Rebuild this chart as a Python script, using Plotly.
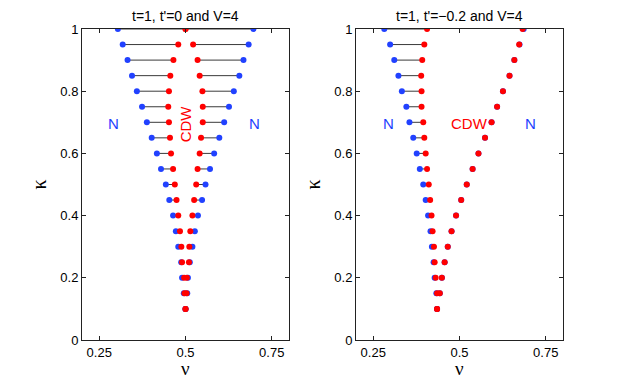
import plotly.graph_objects as go

kappa = [1.0, 0.95, 0.9, 0.85, 0.8, 0.75, 0.7, 0.65, 0.6, 0.55, 0.5, 0.45, 0.4, 0.35, 0.3, 0.25, 0.2, 0.15, 0.1]

# Left panel: t=1, t'=0, V=4
l_blue_lo = [0.304, 0.318, 0.332, 0.345, 0.359, 0.374, 0.388, 0.402, 0.417, 0.429, 0.443, 0.453, 0.464, 0.472, 0.479, 0.4875, 0.490, 0.495, 0.500]
l_red_lo = [0.500, 0.479, 0.465, 0.456, 0.452, 0.450, 0.452, 0.455, 0.458, 0.464, 0.469, 0.474, 0.479, 0.484, 0.488, 0.490, 0.496, 0.497, 0.500]
l_red_hi = [0.500, 0.522, 0.535, 0.541, 0.549, 0.550, 0.550, 0.545, 0.541, 0.535, 0.531, 0.525, 0.520, 0.514, 0.511, 0.510, 0.504, 0.503, 0.500]
l_blue_hi = [0.697, 0.683, 0.668, 0.656, 0.640, 0.626, 0.612, 0.598, 0.583, 0.571, 0.558, 0.548, 0.536, 0.527, 0.520, 0.5125, 0.507, 0.505, 0.500]

# Right panel: t=1, t'=-0.2, V=4
r_blue_lo = [0.282, 0.299, 0.311, 0.323, 0.333, 0.346, 0.355, 0.366, 0.376, 0.385, 0.395, 0.402, 0.409, 0.416, 0.420, 0.425, 0.428, 0.433, 0.435]
r_red_lo = [0.406, 0.398, 0.392, 0.389, 0.390, 0.390, 0.395, 0.398, 0.402, 0.406, 0.411, 0.415, 0.419, 0.422, 0.426, 0.428, 0.431, 0.435, 0.435]
r_red_hi = [0.683, 0.673, 0.659, 0.645, 0.626, 0.609, 0.593, 0.574, 0.555, 0.538, 0.521, 0.505, 0.490, 0.477, 0.466, 0.457, 0.449, 0.443, 0.435]
r_blue_hi = [0.686, 0.674, 0.659, 0.645, 0.626, 0.609, 0.593, 0.574, 0.555, 0.538, 0.521, 0.505, 0.490, 0.477, 0.466, 0.457, 0.449, 0.443, 0.435]

x_ticks = [0.25, 0.5, 0.75]
x_tick_text = ["0.25", "0.5", "0.75"]
y_ticks = [0, 0.2, 0.4, 0.6, 0.8, 1]
y_tick_text = ["0", "0.2", "0.4", "0.6", "0.8", "1"]

BLUE = "#2141ff"
RED = "#ff0000"
LINE = "#3a3a3a"
FONT = "Liberation Sans, Arial, sans-serif"
SERIF = "Liberation Serif, Times New Roman, serif"

fig = go.Figure()


def segs(xa, xb, ys):
    xs, yy = [], []
    for a, b, y in zip(xa, xb, ys):
        xs += [a, b, None]
        yy += [y, y, None]
    return xs, yy


def add_panel(xax, yax, blo, rlo, rhi, bhi):
    for xa, xb in ((blo, rlo), (rhi, bhi)):
        xs, ys = segs(xa, xb, kappa)
        fig.add_trace(go.Scatter(x=xs, y=ys, mode="lines", line=dict(color=LINE, width=1),
                                 xaxis=xax, yaxis=yax, hoverinfo="skip", showlegend=False))
    for xs, c in ((blo, BLUE), (bhi, BLUE), (rlo, RED), (rhi, RED)):
        fig.add_trace(go.Scatter(x=xs, y=kappa, mode="markers",
                                 marker=dict(color=c, size=6, line=dict(width=0)),
                                 xaxis=xax, yaxis=yax, showlegend=False))


add_panel("x", "y", l_blue_lo, l_red_lo, l_red_hi, l_blue_hi)
add_panel("x2", "y2", r_blue_lo, r_red_lo, r_red_hi, r_blue_hi)

axis_common = dict(showline=True, linecolor="#222", linewidth=1, mirror="ticks",
                   ticks="inside", ticklen=4, tickcolor="#222", showgrid=False, zeroline=False,
                   automargin=False,
                   tickfont=dict(family=FONT, size=13, color="black"))

yt = dict(text="κ", font=dict(family=SERIF, size=20, color="black"), standoff=8)

fig.update_layout(
    width=622, height=383,
    margin=dict(l=82, r=59, t=29, b=43, autoexpand=False),
    plot_bgcolor="white", paper_bgcolor="white",
    xaxis=dict(domain=[0, 0.4304], range=[0.2, 0.8], tickvals=x_ticks, ticktext=x_tick_text,
               anchor="y", **axis_common),
    yaxis=dict(domain=[0, 1], range=[0, 1], tickvals=y_ticks, ticktext=y_tick_text,
               title=yt, anchor="x", **axis_common),
    xaxis2=dict(domain=[0.5696, 1], range=[0.2, 0.8], tickvals=x_ticks, ticktext=x_tick_text,
                anchor="y2", **axis_common),
    yaxis2=dict(domain=[0, 1], range=[0, 1], tickvals=y_ticks, ticktext=y_tick_text,
                title=yt, anchor="x2", **axis_common),
)

ann_font = dict(family=FONT, size=15)
annotations = [
    dict(x=0.5, y=1.0, xref="x domain", yref="paper", yanchor="bottom", yshift=3,
         text="t=1, t'=0 and V=4", showarrow=False, font=dict(family=FONT, size=14, color="black")),
    dict(x=0.5, y=1.0, xref="x2 domain", yref="paper", yanchor="bottom", yshift=3,
         text="t=1, t'=−0.2 and V=4", showarrow=False, font=dict(family=FONT, size=14, color="black")),
    dict(x=0.5, y=0, xref="x domain", yref="paper", yanchor="middle", yshift=-28,
         text="ν", showarrow=False, font=dict(family=SERIF, size=19, color="black")),
    dict(x=0.5, y=0, xref="x2 domain", yref="paper", yanchor="middle", yshift=-28,
         text="ν", showarrow=False, font=dict(family=SERIF, size=19, color="black")),
    dict(x=0.29, y=0.695, xref="x", yref="y", text="N", showarrow=False, font=dict(color=BLUE, **ann_font)),
    dict(x=0.70, y=0.695, xref="x", yref="y", text="N", showarrow=False, font=dict(color=BLUE, **ann_font)),
    dict(x=0.50, y=0.695, xref="x", yref="y", text="CDW", textangle=-90, showarrow=False,
         font=dict(color=RED, **ann_font)),
    dict(x=0.295, y=0.695, xref="x2", yref="y2", text="N", showarrow=False, font=dict(color=BLUE, **ann_font)),
    dict(x=0.53, y=0.695, xref="x2", yref="y2", text="CDW", showarrow=False, font=dict(color=RED, **ann_font)),
    dict(x=0.705, y=0.695, xref="x2", yref="y2", text="N", showarrow=False, font=dict(color=BLUE, **ann_font)),
]
fig.update_layout(annotations=annotations)

fig.write_html("out.html", config={"displayModeBar": False},
               post_script="document.body.style.margin='0';document.body.style.padding='0';")
